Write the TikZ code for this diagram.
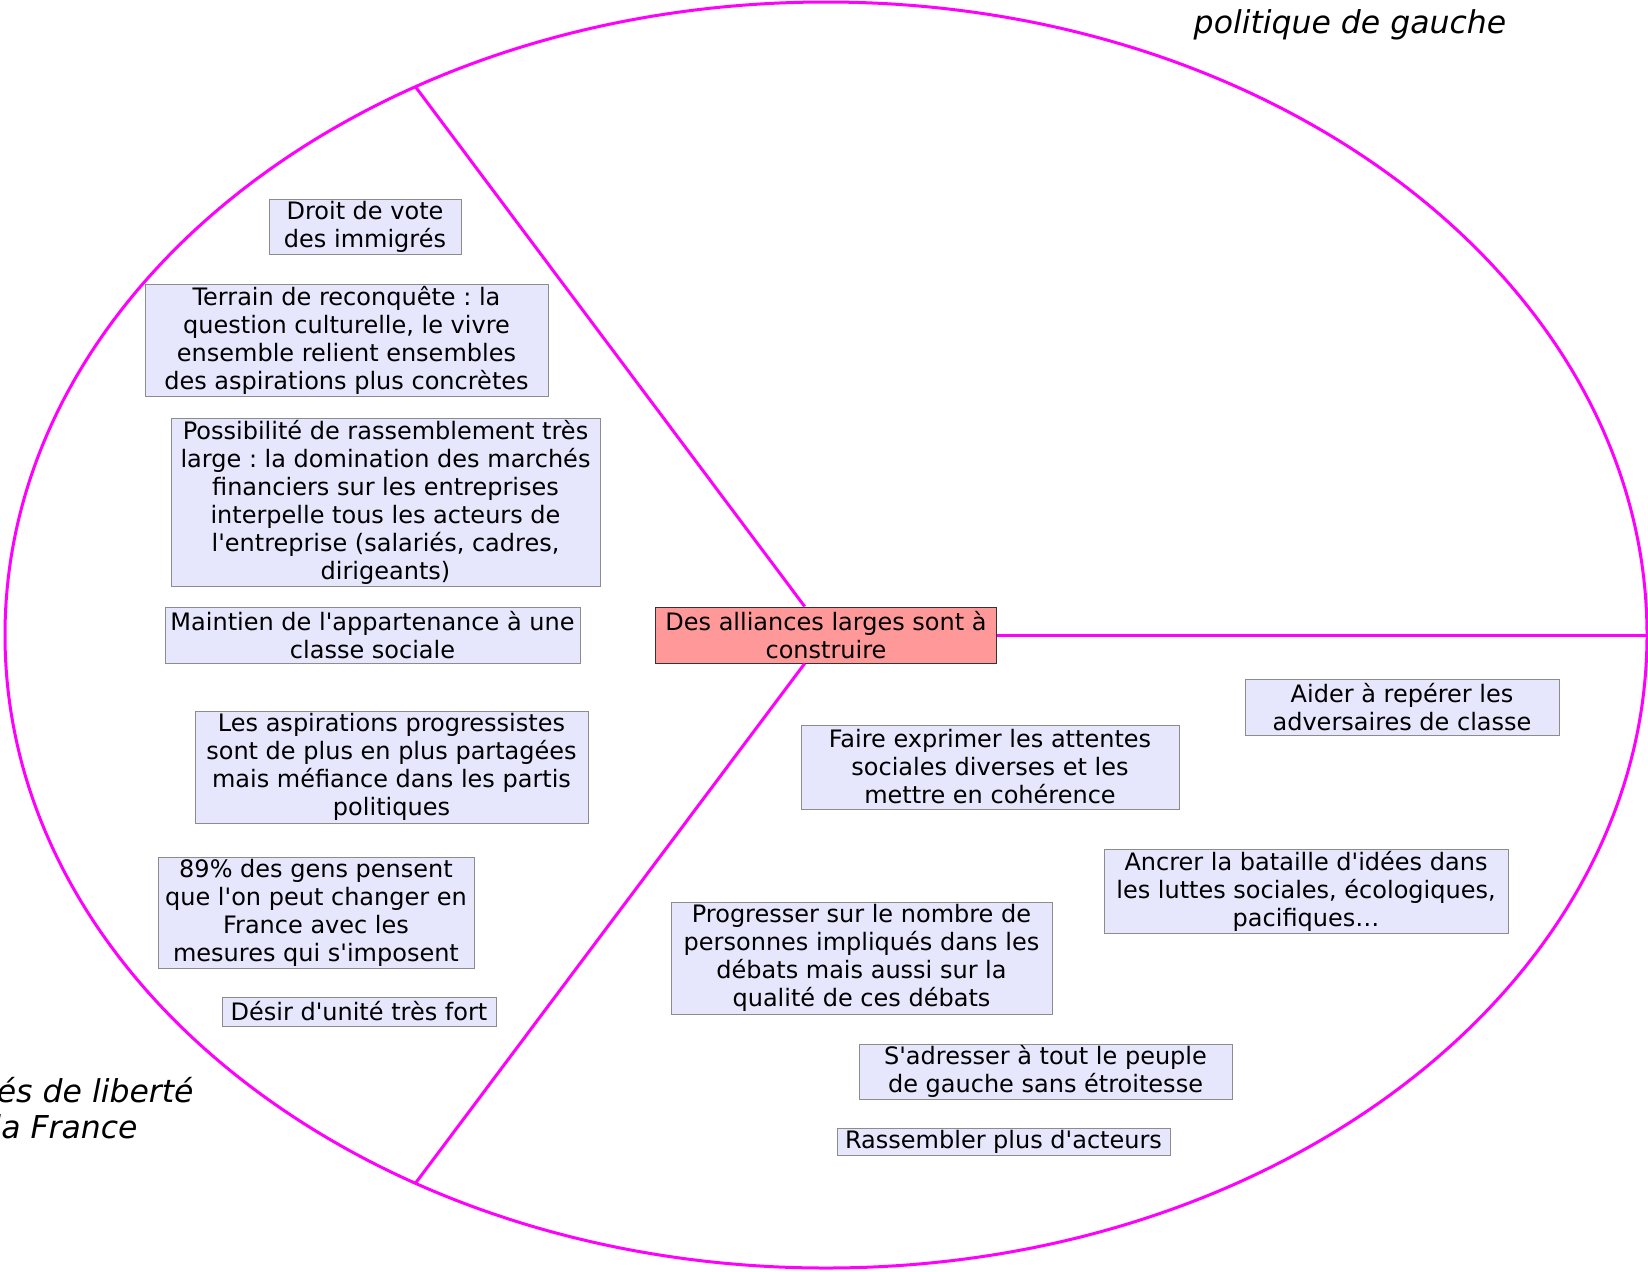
\documentclass[tikz,border=0pt]{standalone}
\usepackage{fontspec}
\setmainfont{DejaVu Sans}[ItalicFont={DejaVu Sans Oblique},Ligatures=TeXOff]
\frenchspacing
\usepackage{tikz}
\usetikzlibrary{calc}
\definecolor{rose}{RGB}{255,0,255}
\definecolor{lavande}{RGB}{230,230,252}
\definecolor{saumon}{RGB}{255,153,153}
\tikzset{
	axe/.style={draw=rose, line width=1.5pt},
	idee/.style={draw=black!45, fill=lavande, line width=0.5pt, align=center,
		inner xsep=1pt, inner ysep=0pt, font=\fontsize{12}{14}\selectfont},
	centre/.style={idee, draw=black!80, fill=saumon},
	legende/.style={font=\fontsize{15.75}{18.9}\selectfont\itshape, inner sep=0pt}
}

\begin{document}
\begin{tikzpicture}[x=0.5pt, y=-0.5pt]
		%%%%% START %%%%%
		
		\useasboundingbox (0, 0) rectangle (1648, 1271);
		\clip (0, 0) rectangle (1648, 1271);
		
		\coordinate (ctr) at (826, 635);
		\coordinate (p0) at ($(ctr)+(0:410.5pt and 316.5pt)$);
		\coordinate (p120) at ($(ctr)+(120:410.5pt and 316.5pt)$);
		\coordinate (p240) at ($(ctr)+(240:410.5pt and 316.5pt)$);
		
		\draw[axe] (ctr) ellipse [x radius=410.5pt, y radius=316.5pt];
		
		\node[centre, minimum width=170.5pt, minimum height=28pt] (alliances) at (ctr) {Des alliances larges sont à\\construire};
		\draw[axe] (alliances) -- (p120);
		\draw[axe] (alliances) -- (p240);
		\draw[axe] (alliances) -- (p0);
		
		% legendes coupees par le bord
		\node[legende, anchor=base] (gauche) at (1350, 33) {politique de gauche};
		\node[legende, anchor=base east] (liberte) at (194, 1102) {és de liberté};
		\node[legende, anchor=base east] (france) at (138, 1138) {la France};
		
		% partie gauche
		\node[idee, minimum width=96pt, minimum height=27.5pt] (vote) at (365, 226.5) {Droit de vote\\des immigrés};
		\node[idee, minimum width=201.5pt, minimum height=56pt] (terrain) at (346.5, 340) {Terrain de reconquête : la\\question culturelle, le vivre\\ensemble relient ensembles\\des aspirations plus concrètes};
		\node[idee, minimum width=214.5pt, minimum height=84pt] (rassemblement) at (385.5, 502) {Possibilité de rassemblement très\\large : la domination des marchés\\financiers sur les entreprises\\interpelle tous les acteurs de\\l'entreprise (salariés, cadres,\\dirigeants)};
		\node[idee, minimum width=207.5pt, minimum height=28pt] (classe) at (372.5, 635) {Maintien de l'appartenance à une\\classe sociale};
		\node[idee, minimum width=196.5pt, minimum height=56pt] (aspirations) at (391.5, 767) {Les aspirations progressistes\\sont de plus en plus partagées\\mais méfiance dans les partis\\politiques};
		\node[idee, minimum width=158pt, minimum height=55.5pt] (sondage) at (316, 912.5) {89\% des gens pensent\\que l'on peut changer en\\France avec les\\mesures qui s'imposent};
		\node[idee, minimum width=137pt, minimum height=14.5pt] (unite) at (359, 1011.5) {Désir d'unité très fort};
		
		% partie droite
		\node[idee, minimum width=157pt, minimum height=28pt] (adversaires) at (1402, 707) {Aider à repérer les\\adversaires de classe};
		\node[idee, minimum width=189pt, minimum height=42pt] (attentes) at (990, 767) {Faire exprimer les attentes\\sociales diverses et les\\mettre en cohérence};
		\node[idee, minimum width=202pt, minimum height=42pt] (bataille) at (1306, 891) {Ancrer la bataille d'idées dans\\les luttes sociales, écologiques,\\pacifiques…};
		\node[idee, minimum width=190.5pt, minimum height=56pt] (debats) at (861.5, 958) {Progresser sur le nombre de\\personnes impliqués dans les\\débats mais aussi sur la\\qualité de ces débats};
		\node[idee, minimum width=186.5pt, minimum height=27.5pt] (peuple) at (1045.5, 1071.5) {S'adresser à tout le peuple\\de gauche sans étroitesse};
		\node[idee, minimum width=166.5pt, minimum height=13.5pt] (acteurs) at (1003.5, 1141.5) {Rassembler plus d'acteurs};
		
		%%%%% END %%%%%
\end{tikzpicture}
\end{document}
